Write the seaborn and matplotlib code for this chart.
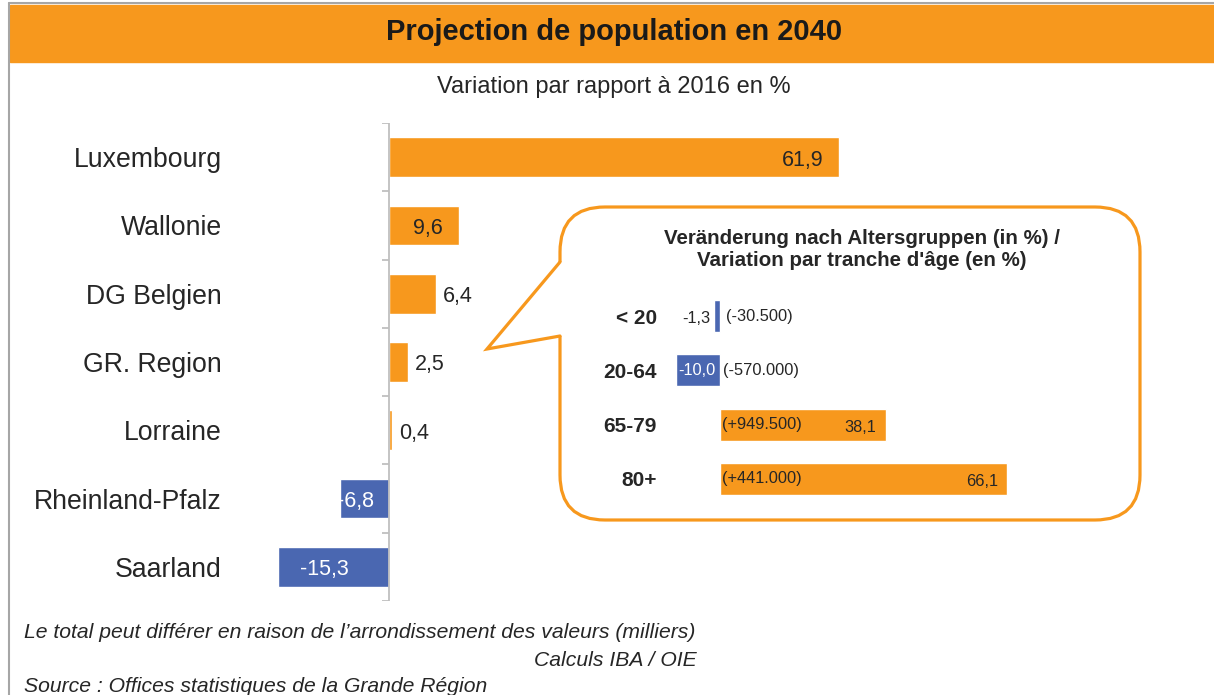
import numpy as np
import pandas as pd
import matplotlib.pyplot as plt
import seaborn as sns
from matplotlib.patches import FancyBboxPatch, Rectangle, Polygon
from matplotlib.lines import Line2D

sns.set_style('white')
plt.rcParams['font.family'] = ['Liberation Sans', 'DejaVu Sans']

# main chart data
regions = ['Luxembourg', 'Wallonie', 'DG Belgien', 'GR. Region', 'Lorraine',
           'Rheinland-Pfalz', 'Saarland']
variation = [61.9, 9.6, 6.4, 2.5, 0.4, -6.8, -15.3]

# inset data (age groups)
age_groups = ['< 20', '20-64', '65-79', '80+']
age_variation = [-1.3, -10.0, 38.1, 66.1]
age_counts = ['(-30.500)', '(-570.000)', '(+949.500)', '(+441.000)']

ORANGE = '#F7981D'
BLUE = '#4A67B1'
DARK = '#262626'
palette = {'pos': ORANGE, 'neg': BLUE}

W, H = 1214, 695


def fx(px):
    return px / W


def fy(py):
    return 1 - py / H


def fmt(v):
    return f'{v:.1f}'.replace('.', ',')


fig = plt.figure(figsize=(W / 100, H / 100), dpi=100)

# frame and title band
fig.add_artist(Line2D([fx(9), fx(9)], [0, fy(3)], color='#A6A6A6', lw=1.5))
fig.add_artist(Line2D([fx(9), 1], [fy(3), fy(3)], color='#A6A6A6', lw=1.5))
fig.add_artist(Rectangle((fx(10), fy(62)), 1 - fx(10), 57 / H,
                         transform=fig.transFigure, color=ORANGE, zorder=1))
fig.text(fx(614), fy(32), 'Projection de population en 2040', ha='center',
         va='center', fontsize=21, weight='bold', color='#1A1A1A')
fig.text(fx(614), fy(87), 'Variation par rapport à 2016 en %', ha='center',
         va='center', fontsize=17, color=DARK)

# main bar chart
df = pd.DataFrame({'region': regions, 'value': variation})
df['sign'] = np.where(df['value'] >= 0, 'pos', 'neg')

ax = fig.add_axes([fx(244), fy(601), 654 / W, 478 / H])
sns.barplot(data=df, x='value', y='region', hue='sign', palette=palette,
            dodge=False, width=0.58, saturation=1, legend=False, ax=ax,
            orient='h')
ax.set_xlim(-20, 70)
ax.set_ylim(len(regions) - 0.5, -0.5)
ax.set_xlabel('')
ax.set_ylabel('')
ax.set_xticks([])
for s in ax.spines.values():
    s.set_visible(False)
ax.tick_params(axis='y', length=0, pad=16, labelsize=19.2, labelcolor=DARK)
ax.axvline(0, color='#BFBFBF', lw=1.3)
ax.hlines(np.arange(len(regions) + 1) - 0.5, -1, 0, color='#BFBFBF', lw=1.3)

for i, v in enumerate(variation):
    if v > 9:
        ax.annotate(fmt(v), (v, i), xytext=(-16, -3), textcoords='offset pixels',
                    ha='right', va='center', fontsize=15.5, color=DARK)
    elif v >= 0:
        ax.annotate(fmt(v), (v, i), xytext=(7, -3), textcoords='offset pixels',
                    ha='left', va='center', fontsize=15.5, color=DARK)
    else:
        ax.annotate(fmt(v), (v / 2, i), xytext=(-9, -3),
                    textcoords='offset pixels', ha='center', va='center',
                    fontsize=15.5, color='white')

# speech bubble
box = FancyBboxPatch((5.60, (H - 520) / 100), 5.80, 3.13,
                     boxstyle='round,pad=0,rounding_size=0.45',
                     transform=fig.dpi_scale_trans, facecolor='white',
                     edgecolor=ORANGE, lw=2.3, zorder=2)
fig.add_artist(box)
tip = (4.87, (H - 349) / 100)
top = (5.60, (H - 262) / 100)
bot = (5.60, (H - 336) / 100)
fig.add_artist(Polygon([(5.66, top[1]), top, tip, bot, (5.66, bot[1])],
                       closed=True, transform=fig.dpi_scale_trans,
                       facecolor='white', edgecolor='none', zorder=2.1))
fig.add_artist(Line2D([top[0], tip[0], bot[0]], [top[1], tip[1], bot[1]],
                      transform=fig.dpi_scale_trans, color=ORANGE, lw=2.3,
                      solid_joinstyle='miter', zorder=2.2))

fig.text(fx(862), fy(238), 'Veränderung nach Altersgruppen (in %) /',
         ha='center', va='center', fontsize=14.8, weight='bold', color=DARK,
         zorder=4)
fig.text(fx(862), fy(261), "Variation par tranche d'âge (en %)",
         ha='center', va='center', fontsize=14.8, weight='bold', color=DARK,
         zorder=4)

# inset bar chart
df2 = pd.DataFrame({'age': age_groups, 'value': age_variation})
df2['sign'] = np.where(df2['value'] >= 0, 'pos', 'neg')

ax2 = fig.add_axes([fx(665), fy(506), 435 / W, 217 / H], zorder=3)
ax2.patch.set_visible(False)
sns.barplot(data=df2, x='value', y='age', hue='sign', palette=palette,
            dodge=False, width=0.59, saturation=1, legend=False, ax=ax2,
            orient='h')
ax2.set_xlim(-12.6, 87.4)
ax2.set_ylim(len(age_groups) - 0.5, -0.5)
ax2.set_xlabel('')
ax2.set_ylabel('')
ax2.set_xticks([])
for s in ax2.spines.values():
    s.set_visible(False)
ax2.tick_params(axis='y', length=0, pad=6, labelsize=15, labelcolor=DARK)
for lbl in ax2.get_yticklabels():
    lbl.set_fontweight('bold')

for i, (v, c) in enumerate(zip(age_variation, age_counts)):
    if v < 0 and abs(v) < 5:
        ax2.annotate(fmt(v), (v, i), xytext=(-4, -2), textcoords='offset pixels',
                     ha='right', va='center', fontsize=11.8, color=DARK)
        ax2.annotate(c, (0, i), xytext=(6, 0), textcoords='offset pixels',
                     ha='left', va='center', fontsize=11.8, color=DARK)
    elif v < 0:
        ax2.annotate(fmt(v), (v, i), xytext=(2, 0), textcoords='offset pixels',
                     ha='left', va='center', fontsize=11.8, color='white')
        ax2.annotate(c, (0, i), xytext=(3, 0), textcoords='offset pixels',
                     ha='left', va='center', fontsize=11.8, color=DARK)
    else:
        ax2.annotate(c, (0, i), xytext=(2, 0), textcoords='offset pixels',
                     ha='left', va='center', fontsize=11.8, color=DARK)
        ax2.annotate(fmt(v), (v, i), xytext=(-9, -3), textcoords='offset pixels',
                     ha='right', va='center', fontsize=11.8, color=DARK)

# footnotes
fig.text(fx(24), fy(632),
         'Le total peut différer en raison de l’arrondissement des valeurs (milliers)',
         ha='left', va='center', fontsize=15.2, style='italic', color=DARK)
fig.text(fx(697), fy(661), 'Calculs IBA / OIE', ha='right', va='center',
         fontsize=15.2, style='italic', color=DARK)
fig.text(fx(24), fy(686), 'Source : Offices statistiques de la Grande Région',
         ha='left', va='center', fontsize=15.2, style='italic', color=DARK)

fig.savefig('out.png', dpi=100)
